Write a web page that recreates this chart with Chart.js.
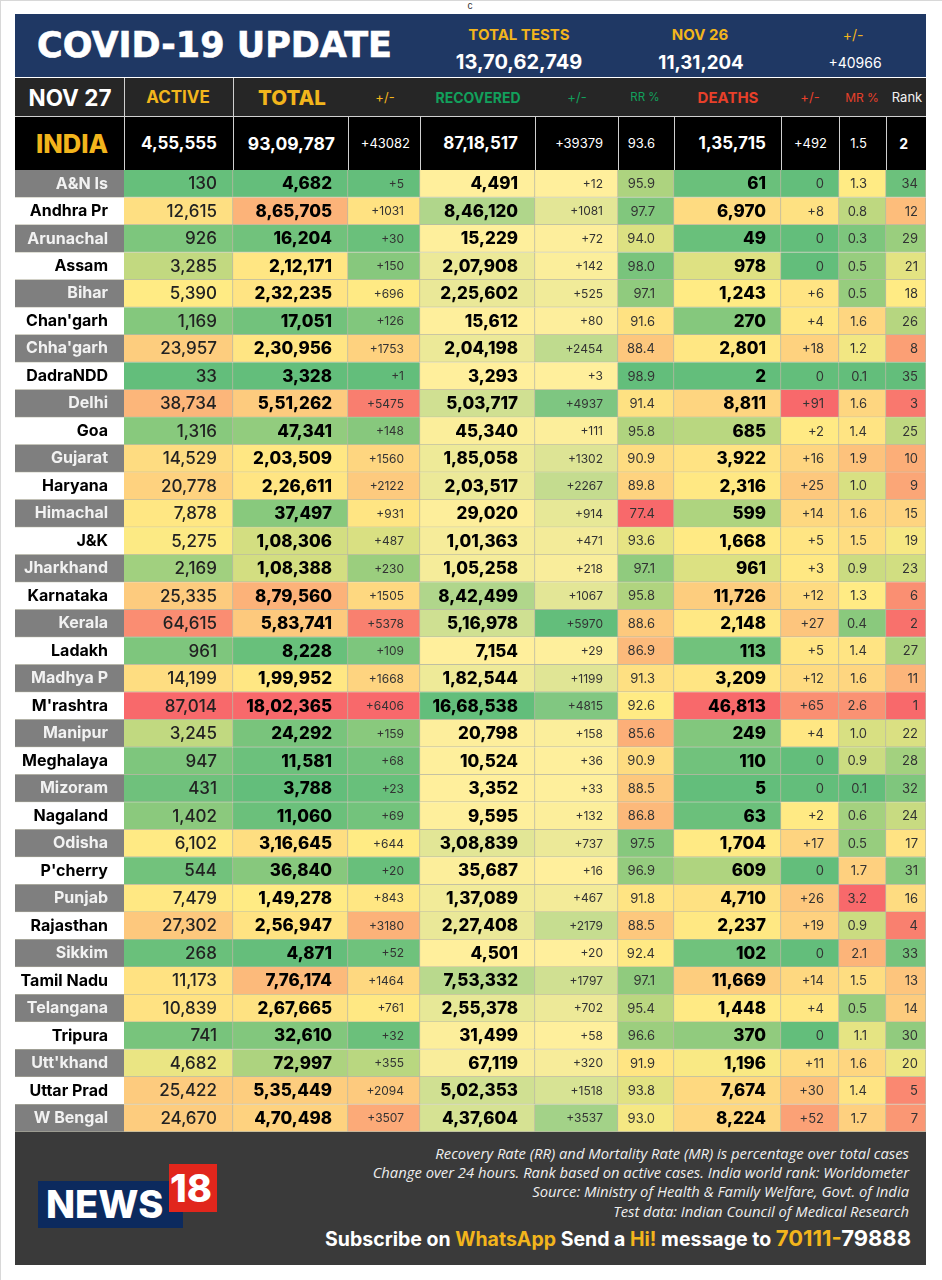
<!DOCTYPE html>
<html>
<head>
<meta charset="utf-8">
<script src="https://cdn.jsdelivr.net/npm/chart.js@4"></script>
<style>
  html, body { margin: 0; padding: 0; background: #fff; }
  #page { position: relative; width: 942px; height: 1280px; overflow: hidden; font-family: Inter, sans-serif; }
  .box { position: absolute; }
  .t { position: absolute; white-space: nowrap; line-height: 1; transform: translateY(-50%); }
  .c { transform: translate(-50%, -50%); }
  .r { transform: translate(-100%, -50%); }
</style>
</head>
<body>
<div id="page">
  <div class="box" style="left:0;top:0;width:942px;height:1px;background:#d8d8d8"></div>
  <div class="box" style="left:0;top:0;width:1px;height:1280px;background:#d8d8d8"></div>
  <div class="box" style="left:15px;top:14px;width:911px;height:63px;background:#1f3864"></div>
  <div class="box" style="left:15px;top:78px;width:911px;height:39px;background:#262626"></div>
  <div class="box" style="left:15px;top:117px;width:911px;height:53px;background:#000"></div>
  <div class="box" style="left:15px;top:1132px;width:911px;height:133px;background:#3a3a3a"></div>
  <div class="box" style="left:38px;top:1181px;width:145px;height:47px;background:#0c2a5e"></div>
  <div class="box" style="left:169px;top:1164px;width:48px;height:48px;background:#e1261c"></div>
  <div id="labels"></div>
  <div class="box" style="left:15px;top:170px;width:911px;height:962px"><canvas id="table_chart"></canvas></div>
</div>
<script>
// State rows
const states = ["A&N Is", "Andhra Pr", "Arunachal", "Assam", "Bihar", "Chan'garh", "Chha'garh", "DadraNDD", "Delhi", "Goa",
  "Gujarat", "Haryana", "Himachal", "J&K", "Jharkhand", "Karnataka", "Kerala", "Ladakh", "Madhya P", "M'rashtra",
  "Manipur", "Meghalaya", "Mizoram", "Nagaland", "Odisha", "P'cherry", "Punjab", "Rajasthan", "Sikkim", "Tamil Nadu",
  "Telangana", "Tripura", "Utt'khand", "Uttar Prad", "W Bengal"];

const active = [130, 12615, 926, 3285, 5390, 1169, 23957, 33, 38734, 1316, 14529, 20778, 7878, 5275, 2169, 25335, 64615, 961, 14199, 87014,
  3245, 947, 431, 1402, 6102, 544, 7479, 27302, 268, 11173, 10839, 741, 4682, 25422, 24670];
const total = [4682, 865705, 16204, 212171, 232235, 17051, 230956, 3328, 551262, 47341, 203509, 226611, 37497, 108306, 108388, 879560, 583741, 8228, 199952, 1802365,
  24292, 11581, 3788, 11060, 316645, 36840, 149278, 256947, 4871, 776174, 267665, 32610, 72997, 535449, 470498];
const totalChange = [5, 1031, 30, 150, 696, 126, 1753, 1, 5475, 148, 1560, 2122, 931, 487, 230, 1505, 5378, 109, 1668, 6406,
  159, 68, 23, 69, 644, 20, 843, 3180, 52, 1464, 761, 32, 355, 2094, 3507];
const recovered = [4491, 846120, 15229, 207908, 225602, 15612, 204198, 3293, 503717, 45340, 185058, 203517, 29020, 101363, 105258, 842499, 516978, 7154, 182544, 1668538,
  20798, 10524, 3352, 9595, 308839, 35687, 137089, 227408, 4501, 753332, 255378, 31499, 67119, 502353, 437604];
const recoveredChange = [12, 1081, 72, 142, 525, 80, 2454, 3, 4937, 111, 1302, 2267, 914, 471, 218, 1067, 5970, 29, 1199, 4815,
  158, 36, 33, 132, 737, 16, 467, 2179, 20, 1797, 702, 58, 320, 1518, 3537];
const recoveryRate = [95.9, 97.7, 94.0, 98.0, 97.1, 91.6, 88.4, 98.9, 91.4, 95.8, 90.9, 89.8, 77.4, 93.6, 97.1, 95.8, 88.6, 86.9, 91.3, 92.6,
  85.6, 90.9, 88.5, 86.8, 97.5, 96.9, 91.8, 88.5, 92.4, 97.1, 95.4, 96.6, 91.9, 93.8, 93.0];
const deaths = [61, 6970, 49, 978, 1243, 270, 2801, 2, 8811, 685, 3922, 2316, 599, 1668, 961, 11726, 2148, 113, 3209, 46813,
  249, 110, 5, 63, 1704, 609, 4710, 2237, 102, 11669, 1448, 370, 1196, 7674, 8224];
const deathsChange = [0, 8, 0, 0, 6, 4, 18, 0, 91, 2, 16, 25, 14, 5, 3, 12, 27, 5, 12, 65,
  4, 0, 0, 2, 17, 0, 26, 19, 0, 14, 4, 0, 11, 30, 52];
const mortalityRate = [1.3, 0.8, 0.3, 0.5, 0.5, 1.6, 1.2, 0.1, 1.6, 1.4, 1.9, 1.0, 1.6, 1.5, 0.9, 1.3, 0.4, 1.4, 1.6, 2.6,
  1.0, 0.9, 0.1, 0.6, 0.5, 1.7, 3.2, 0.9, 2.1, 1.5, 0.5, 1.1, 1.6, 1.4, 1.7];
const rank = [34, 12, 29, 21, 18, 26, 8, 35, 3, 25, 10, 9, 15, 19, 23, 6, 2, 27, 11, 1,
  22, 28, 32, 24, 17, 31, 16, 4, 33, 13, 14, 30, 20, 5, 7];

// Top rows
const indiaRow = ["4,55,555", "93,09,787", "+43082", "87,18,517", "+39379", "93.6", "1,35,715", "+492", "1.5", "2"];
const testTotals = ["13,70,62,749", "11,31,204", "+40966"];

// Excel style colour scales
const GREEN = [99, 190, 123], YELLOW = [255, 235, 132], RED = [248, 105, 107], PALE = [255, 239, 156];

const mix = (a, b, t) => {
  t = Math.max(0, Math.min(1, t));
  return 'rgb(' + a.map((v, i) => Math.round(v + (b[i] - v) * t)).join(',') + ')';
};

const median = (arr) => [...arr].sort((a, b) => a - b)[Math.floor(arr.length / 2)];

// green - yellow - red, low value green
const threeColor = (arr, mid) => {
  const lo = Math.min(...arr), hi = Math.max(...arr);
  const m = mid === undefined ? median(arr) : mid;
  return arr.map(v => v <= m ? mix(GREEN, YELLOW, (v - lo) / (m - lo)) : mix(YELLOW, RED, (v - m) / (hi - m)));
};

// same thing, high value green
const threeColorReversed = (arr) => {
  const lo = Math.min(...arr), hi = Math.max(...arr), m = median(arr);
  return arr.map(v => v >= m ? mix(YELLOW, GREEN, (v - m) / (hi - m)) : mix(YELLOW, RED, (m - v) / (m - lo)));
};

// pale yellow to green
const twoColor = (arr) => {
  const lo = Math.min(...arr), hi = Math.max(...arr);
  return arr.map(v => mix(PALE, GREEN, (v - lo) / (hi - lo)));
};

const inr = (v) => v.toLocaleString('en-IN');
const plus = (v) => v === 0 ? '0' : '+' + v;
const oneDp = (v) => v.toFixed(1);
const plain = (v) => String(v);

const BOLD = '800 17px Inter';
const MID = '500 17px Inter';
const SMALL = '400 13px Inter';
const DELTA = '400 12px Inter';

const columns = [
  { name: 'Active', values: active, width: 109, pad: 16, font: MID, color: '#222', fmt: inr, fill: threeColor(active) },
  { name: 'Total', values: total, width: 115, pad: 16, font: BOLD, color: '#000', fmt: inr, fill: threeColor(total) },
  { name: 'Total change', values: totalChange, width: 72, pad: 16, font: DELTA, color: '#333', fmt: plus, fill: threeColor(totalChange) },
  { name: 'Recovered', values: recovered, width: 115, pad: 17, font: BOLD, color: '#000', fmt: inr, fill: twoColor(recovered) },
  { name: 'Recovered change', values: recoveredChange, width: 83, pad: 15, font: DELTA, color: '#333', fmt: plus, fill: twoColor(recoveredChange) },
  { name: 'RR %', values: recoveryRate, width: 56, pad: 19, font: SMALL, color: '#333', fmt: oneDp, fill: threeColorReversed(recoveryRate) },
  { name: 'Deaths', values: deaths, width: 107, pad: 15, font: BOLD, color: '#000', fmt: inr, fill: threeColor(deaths) },
  { name: 'Deaths change', values: deathsChange, width: 58, pad: 15, font: SMALL, color: '#333', fmt: plus, fill: threeColor(deathsChange, 1) },
  { name: 'MR %', values: mortalityRate, width: 47, pad: 19, font: SMALL, color: '#333', fmt: oneDp, fill: threeColor(mortalityRate) },
  { name: 'Rank', values: rank, width: 40, pad: 8, font: SMALL, color: '#333', fmt: plain, fill: threeColorReversed(rank) }
];

const datasets = columns.map(col => ({
  label: col.name,
  data: states.map(() => col.width),
  backgroundColor: col.fill,
  borderColor: '#b9b8a4',
  borderWidth: { top: 0, left: 0, right: 1, bottom: 1 },
  borderSkipped: false,
  barPercentage: 1,
  categoryPercentage: 1
}));

// Gray and white bands behind the state names.
const nameBands = {
  id: 'nameBands',
  beforeDraw(chart) {
    const { ctx, scales: { y } } = chart;
    const rowH = y.height / states.length;
    states.forEach((s, i) => {
      const top = y.getPixelForValue(i) - rowH / 2;
      ctx.fillStyle = i % 2 === 0 ? '#7f7f7f' : '#ffffff';
      ctx.fillRect(0, top, y.width, rowH);
      ctx.fillStyle = '#b9b8a4';
      ctx.fillRect(0, top + rowH - 0.5, y.width, 1);
    });
  }
};

// Writes the value of each cell, right aligned against the bar end.
const cellText = {
  id: 'cellText',
  afterDatasetsDraw(chart) {
    const { ctx } = chart;
    ctx.save();
    ctx.textAlign = 'right';
    ctx.textBaseline = 'middle';
    columns.forEach((col, c) => {
      const bars = chart.getDatasetMeta(c).data;
      ctx.font = col.font;
      ctx.fillStyle = col.color;
      bars.forEach((bar, i) => {
        ctx.fillText(col.fmt(col.values[i]), bar.x - col.pad, bar.y + 0.5);
      });
    });
    ctx.restore();
  }
};

new Chart(document.getElementById('table_chart'), {
  type: 'bar',
  data: { labels: states, datasets: datasets },
  options: {
    indexAxis: 'y',
    responsive: true,
    maintainAspectRatio: false,
    animation: false,
    layout: { padding: 0 },
    plugins: { legend: { display: false }, title: { display: false }, tooltip: { enabled: false } },
    scales: {
      x: { stacked: true, display: false, min: 0, max: 802 },
      y: {
        stacked: true,
        grid: { display: false, drawTicks: false },
        border: { display: false },
        // The label column is fixed, and rows should fill the whole height.
        afterFit(scale) {
          scale.width = 109;
          scale.paddingTop = 0;
          scale.paddingBottom = 0;
        },
        ticks: {
          autoSkip: false,
          padding: 16,
          font: { family: 'Inter', size: 16, weight: '700' },
          color: (ctx) => ctx.index % 2 === 0 ? '#f2f2f2' : '#000000'
        }
      }
    }
  },
  plugins: [nameBands, cellText]
});

// Text around the table
const GOLD = '#f2b51c', HEAD_GREEN = '#12a05c', HEAD_RED = '#e8402a', CREAM = '#f2f2f2';

const addText = (text, x, y, align, css) => {
  const el = document.createElement('div');
  el.className = 't ' + align;
  el.textContent = text;
  el.style.cssText = 'left:' + x + 'px;top:' + y + 'px;' + css;
  document.getElementById('labels').appendChild(el);
  return el;
};

addText('c', 470, 5, 'c', 'font:400 10px "Liberation Sans";color:#333');
addText('COVID-19 UPDATE', 37, 45, '', 'font:700 35px "DejaVu Sans";color:#fff;-webkit-text-stroke:0.6px #fff');
addText('TOTAL TESTS', 519, 34, 'c', 'font:700 15px Inter;color:' + GOLD);
addText('NOV 26', 700, 34, 'c', 'font:700 15px Inter;color:' + GOLD);
addText('+/-', 853, 34, 'c', 'font:400 14px Inter;color:' + GOLD);
addText(testTotals[0], 519, 62, 'c', 'font:700 20px Inter;color:#fff');
addText(testTotals[1], 701, 62, 'c', 'font:700 18.7px Inter;color:#fff');
addText(testTotals[2], 855, 62, 'c', 'font:400 14px Inter;color:#fff');

addText('NOV 27', 70, 97, 'c', 'font:700 22.5px Inter;color:#fff');
addText('ACTIVE', 178, 97, 'c', 'font:700 17px Inter;color:' + GOLD);
addText('TOTAL', 292, 97, 'c', 'font:800 20.5px Inter;color:' + GOLD);
addText('+/-', 385, 97, 'c', 'font:400 13px Inter;color:' + GOLD);
addText('RECOVERED', 478, 97, 'c', 'font:700 14px Inter;color:' + HEAD_GREEN);
addText('+/-', 577, 97, 'c', 'font:400 13px Inter;color:' + HEAD_GREEN);
addText('RR %', 645, 97, 'c', 'font:400 11.5px Inter;color:' + HEAD_GREEN);
addText('DEATHS', 728, 97, 'c', 'font:700 15px Inter;color:' + HEAD_RED);
addText('+/-', 810, 97, 'c', 'font:400 13px Inter;color:' + HEAD_RED);
addText('MR %', 862, 97, 'c', 'font:400 12px Inter;color:' + HEAD_RED);
addText('Rank', 907, 97, 'c', 'font:400 13px Inter;color:' + CREAM);

addText('INDIA', 72, 143, 'c', 'font:800 25.5px Inter;color:' + GOLD);
const indiaRight = [217, 335, 410, 518, 603, 655, 766, 827, 867, 908];
const indiaFont = ['700 17px', '700 17.5px', '400 13px', '700 17px', '400 13px', '400 13px', '700 17px', '400 13px', '400 13px', '700 14px'];
indiaRow.forEach((v, i) => addText(v, indiaRight[i], 143, 'r', 'font:' + indiaFont[i] + ' Inter;color:#fff'));

// Column separators in the two dark rows
[124, 233].forEach(x => {
  const d = document.createElement('div');
  d.className = 'box';
  d.style.cssText = 'left:' + x + 'px;top:78px;width:1px;height:92px;background:#d0d0d0';
  document.getElementById('labels').appendChild(d);
});
[348, 420, 535, 618, 674, 781, 839, 886].forEach(x => {
  const d = document.createElement('div');
  d.className = 'box';
  d.style.cssText = 'left:' + x + 'px;top:117px;width:1px;height:53px;background:#d0d0d0';
  document.getElementById('labels').appendChild(d);
});
const rule = document.createElement('div');
rule.className = 'box';
rule.style.cssText = 'left:15px;top:116px;width:911px;height:1px;background:#d0d0d0';
document.getElementById('labels').appendChild(rule);

// Footer
const noteLines = ['Recovery Rate (RR) and Mortality Rate (MR) is percentage over total cases',
  'Change over 24 hours. Rank based on active cases. India world rank: Worldometer',
  'Source: Ministry of Health & Family Welfare, Govt. of India',
  'Test data: Indian Council of Medical Research'];
const noteY = [1153, 1172, 1191, 1211];
noteLines.forEach((line, i) => addText(line, 909, noteY[i], 'r', 'font:italic 400 14.8px "Open Sans";color:#eee'));

const sub = addText('', 911, 1238, 'r', 'font:700 19.5px Inter;color:#fff');
sub.innerHTML = 'Subscribe on <span style="color:#f2b51c">WhatsApp</span> Send a <span style="color:#f2b51c">Hi!</span> message to <span style="color:#f2b51c;font-size:22px">70111-</span><span style="font-size:22px">79888</span>';

addText('NEWS', 46, 1204, '', 'font:800 38px Inter;color:#fff');
addText('18', 191, 1188, 'c', 'font:800 38px Inter;color:#fff');
</script>
</body>
</html>
